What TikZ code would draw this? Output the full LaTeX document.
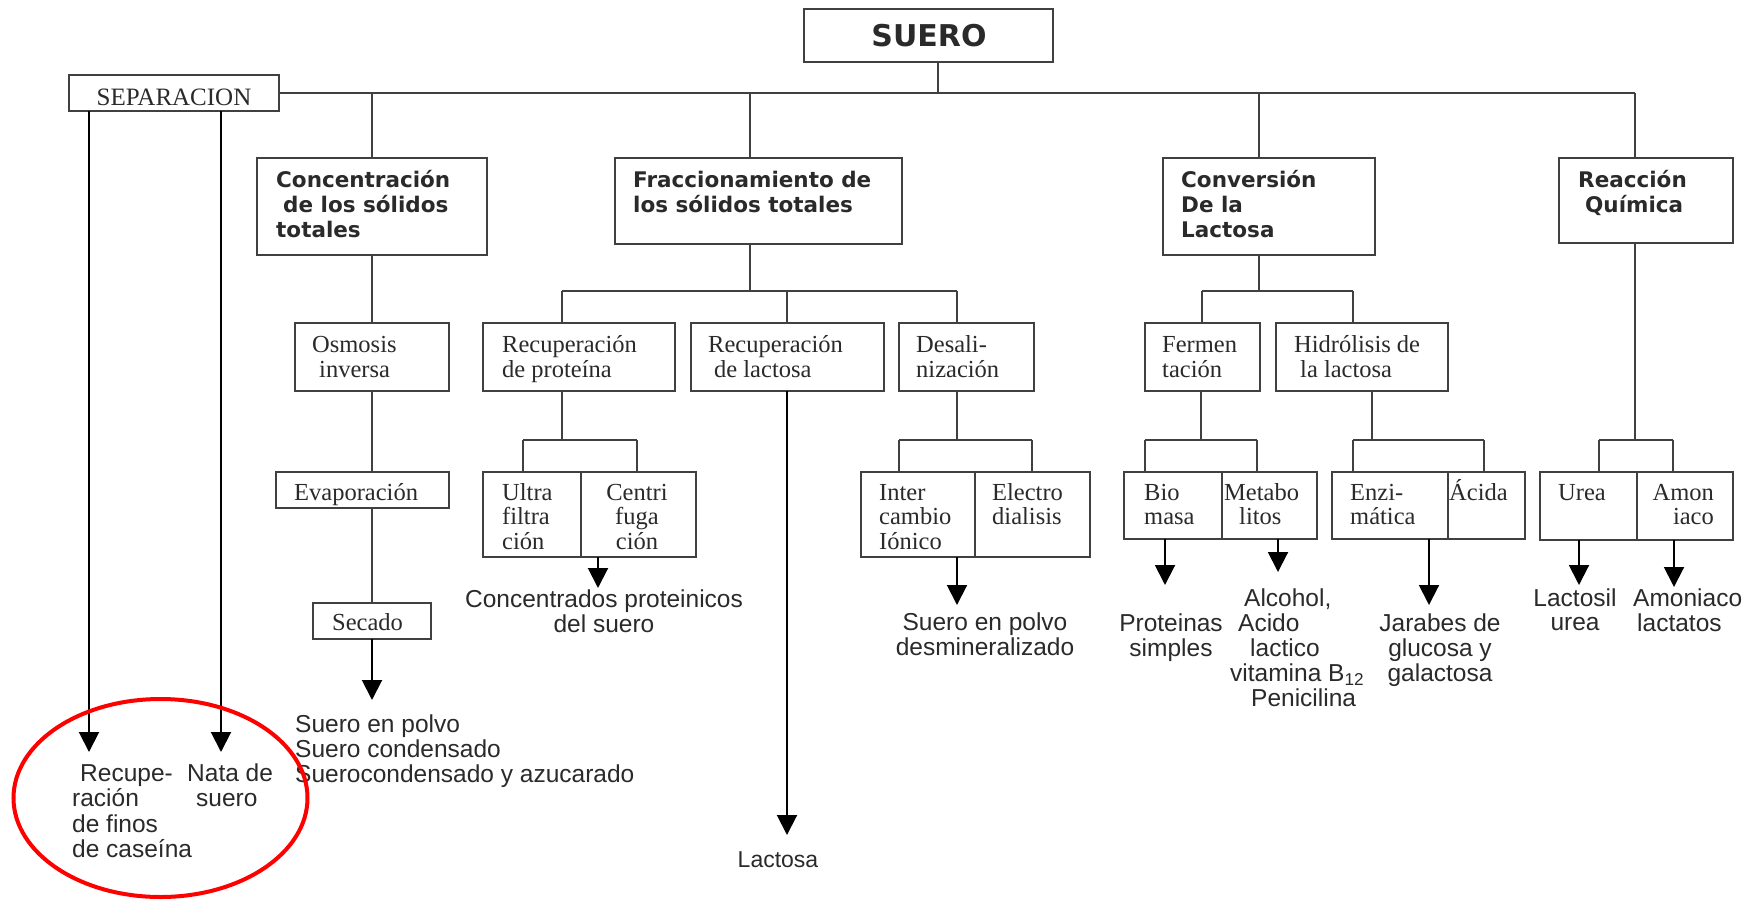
\documentclass[tikz,border=0pt]{standalone}
\usepackage{fontspec}
\setmainfont{Liberation Serif}
\setsansfont{Liberation Sans}
\newfontfamily\hdfont{DejaVu Sans}
\usetikzlibrary{arrows.meta}
\definecolor{linec}{HTML}{404040}
\definecolor{txtc}{HTML}{2A2A2A}
\newcommand\tl[2]{\begin{tabular}[t]{@{}#1@{}}#2\end{tabular}}
\newcommand\mkbox[5]{\node[boxst, anchor=north west, minimum width={(#4-#2)*1pt}, minimum height={(#5-#3)*1pt}] (#1) at (#2,#3) {};}
\tikzset{
  boxst/.style={draw=linec, line width=1.8pt, inner sep=0pt, outer sep=0pt},
  ln/.style={draw=linec, line width=1.8pt},
  arr/.style={draw=black, line width=2pt, -{Triangle[length=20pt,width=20pt]}},
  hd/.style={font=\hdfont\fontsize{21.5}{25}\selectfont\bfseries, text=txtc, inner sep=0pt},
  sf/.style={font=\rmfamily\fontsize{24.5}{25}\selectfont, text=txtc, inner sep=0pt},
  sfs/.style={font=\rmfamily\fontsize{24.5}{24.5}\selectfont, text=txtc, inner sep=0pt},
  rs/.style={font=\sffamily\fontsize{24.5}{24.5}\selectfont, text=txtc, inner sep=0pt},
  rsb/.style={font=\sffamily\fontsize{24.5}{25.5}\selectfont, text=txtc, inner sep=0pt}
}
\begin{document}
\begin{tikzpicture}[x=1pt,y=-1pt]
\fill[white] (0,0) rectangle (1754,900);
\useasboundingbox (0,0) rectangle (1754,900);

% ---------- boxes ----------
\mkbox{suero}{804}{9}{1053}{62}
\mkbox{sep}{69}{75}{279}{111}
\mkbox{conc}{257}{158}{487}{255}
\mkbox{frac}{615}{158}{902}{244}
\mkbox{conv}{1163}{158}{1375}{255}
\mkbox{reac}{1559}{158}{1733}{243}
\mkbox{osm}{295}{323}{449}{391}
\mkbox{rprot}{483}{323}{675}{391}
\mkbox{rlact}{691}{323}{884}{391}
\mkbox{desal}{899}{323}{1034}{391}
\mkbox{ferm}{1145}{323}{1260}{391}
\mkbox{hidro}{1276}{323}{1448}{391}
\mkbox{evap}{276}{472}{449}{508}
\mkbox{sec}{313}{603}{431}{639}
\mkbox{ultra}{483}{472}{581}{557}
\mkbox{centri}{581}{472}{696}{557}
\mkbox{inter}{861}{472}{975}{557}
\mkbox{electro}{975}{472}{1090}{557}
\mkbox{bio}{1124}{472}{1222}{539}
\mkbox{meta}{1222}{472}{1317}{539}
\mkbox{enzi}{1332}{472}{1448}{539}
\mkbox{acida}{1448}{472}{1525}{539}
\mkbox{urea}{1540}{472}{1637}{540}
\mkbox{amon}{1637}{472}{1733}{540}

% ---------- box texts ----------
\node[hd, font=\hdfont\fontsize{30}{32}\selectfont\bfseries, anchor=base] (t-suero) at (929,46) {SUERO};
\node[sf, font=\rmfamily\fontsize{25}{25}\selectfont, anchor=base] (t-sep) at (174,105) {SEPARACION};
\node[hd, anchor=base west] (t-conc) at (276,187) {\tl{l}{Concentración\\\hspace{7pt}de los sólidos\\totales}};
\node[hd, anchor=base west] (t-frac) at (633,187) {\tl{l}{Fraccionamiento de\\los sólidos totales}};
\node[hd, anchor=base west] (t-conv) at (1181,187) {\tl{l}{Conversión\\De la\\Lactosa}};
\node[hd, anchor=base west] (t-reac) at (1578,187) {\tl{l}{Reacción\\\hspace{7pt}Química}};

\node[sf, anchor=base west] (t-osm) at (312,352) {\tl{l}{Osmosis\\\hspace{7pt}inversa}};
\node[sf, anchor=base west] (t-rprot) at (502,352) {\tl{l}{Recuperación\\de proteína}};
\node[sf, anchor=base west] (t-rlact) at (708,352) {\tl{l}{Recuperación\\\hspace{6pt}de lactosa}};
\node[sf, anchor=base west] (t-desal) at (916,352) {\tl{l}{Desali-\\nización}};
\node[sf, anchor=base west] (t-ferm) at (1162,352) {\tl{l}{Fermen\\tación}};
\node[sf, anchor=base west] (t-hidro) at (1294,352) {\tl{l}{Hidrólisis de\\\hspace{6pt}la lactosa}};
\node[sf, anchor=base west] (t-evap) at (294,500) {Evaporación};
\node[sf, anchor=base west] (t-sec) at (332,630) {Secado};
\node[sfs, anchor=base west] (t-ultra) at (502,500) {\tl{l}{Ultra\\filtra\\ción}};
\node[sfs, anchor=base] (t-centri) at (637,500) {\tl{c}{Centri\\fuga\\ción}};
\node[sfs, anchor=base west] (t-inter) at (879,500) {\tl{l}{Inter\\cambio\\Iónico}};
\node[sfs, anchor=base west] (t-electro) at (992,500) {\tl{l}{Electro\\dialisis}};
\node[sfs, anchor=base west] (t-bio) at (1144,500) {\tl{l}{Bio\\masa}};
\node[sfs, anchor=base west] (t-meta) at (1224,500) {\tl{l}{Metabo\\\hspace{15pt}litos}};
\node[sfs, anchor=base west] (t-enzi) at (1350,500) {\tl{l}{Enzi-\\mática}};
\node[sfs, anchor=base west] (t-acida) at (1449,500) {Ácida};
\node[sfs, anchor=base west] (t-urea) at (1558,500) {Urea};
\node[sfs, anchor=base east] (t-amon) at (1714,500) {\tl{r}{Amon\\iaco}};

% ---------- result texts ----------
\node[rs, anchor=base] (r-conc) at (604,607) {\tl{c}{Concentrados proteinicos\\del suero}};
\node[rs, anchor=base] (r-desal) at (985,630) {\tl{c}{Suero en polvo\\desmineralizado}};
\node[rs, anchor=base west] (r-sec) at (295,732) {\tl{l}{Suero en polvo\\Suero condensado\\Suerocondensado y azucarado}};
\node[rs, font=\sffamily\fontsize{23}{24}\selectfont, anchor=base] (r-lact) at (778,867) {Lactosa};
\node[rsb, anchor=base west] (r-fin) at (72,781) {\tl{l}{\hspace{8pt}Recupe-\\\hspace{0pt}ración\\de finos\\de caseína}};
\node[rsb, anchor=base west] (r-nata) at (187,781) {\tl{l}{Nata de\\\hspace{9pt}suero}};
\node[rs, anchor=base] (r-prot) at (1171,631) {\tl{c}{Proteinas\\simples}};
\node[rs, anchor=base west] (r-alc) at (1230,606) {\tl{l}{\hspace{14pt}Alcohol,\\\hspace{8pt}Acido\\\hspace{20pt}lactico\\vitamina B\textsubscript{12}\\\hspace{21pt}Penicilina}};
\node[rs, anchor=base] (r-jar) at (1440,631) {\tl{c}{Jarabes de\\glucosa y\\galactosa}};
\node[rs, anchor=base] (r-lsil) at (1575,606) {\tl{c}{Lactosil\\urea}};
\node[rs, anchor=base west] (r-amo) at (1633,606) {\tl{l}{Amoniaco\\\hspace{4pt}lactatos}};

% ---------- junction coordinates ----------
\coordinate (jS) at (938,93);
\coordinate (jC) at (372,93);
\coordinate (jF) at (750,93);
\coordinate (jV) at (1259,93);
\coordinate (jR) at (1635,93);
\coordinate (fB) at (750,291);
\coordinate (fL) at (562,291);
\coordinate (fM) at (787,291);
\coordinate (fR) at (957,291);
\coordinate (pJ) at (562,440);
\coordinate (pL) at (523,440);
\coordinate (pR) at (637,440);
\coordinate (dJ) at (957,440);
\coordinate (dL) at (899,440);
\coordinate (dR) at (1032,440);
\coordinate (cB) at (1259,291);
\coordinate (cL) at (1202,291);
\coordinate (cR) at (1353,291);
\coordinate (eJ) at (1201,440);
\coordinate (eL) at (1145,440);
\coordinate (eR) at (1257,440);
\coordinate (hJ) at (1372,440);
\coordinate (hL) at (1353,440);
\coordinate (hR) at (1484,440);
\coordinate (rJ) at (1635,440);
\coordinate (rL) at (1599,440);
\coordinate (rR) at (1673,440);
% arrow tips
\coordinate (aS1) at (89,752);
\coordinate (aS2) at (221,752);
\coordinate (aSec) at (372,700);
\coordinate (aUC) at (598,588);
\coordinate (aLac) at (787,835);
\coordinate (aDes) at (957,605);
\coordinate (aBio) at (1165,585);
\coordinate (aMet) at (1278,572);
\coordinate (aEnz) at (1429,605);
\coordinate (aUre) at (1579,585);
\coordinate (aAmo) at (1674,587);

% ---------- connectors ----------
\draw[ln] (sep.east) -- (jR);
\draw[ln] (suero.south -| jS) -- (jS);
\draw[ln] (jC) -- (conc.north -| jC);
\draw[ln] (jF) -- (frac.north -| jF);
\draw[ln] (jV) -- (conv.north -| jV);
\draw[ln] (jR) -- (reac.north -| jR);

\draw[arr] (sep.south -| aS1) -- (aS1);
\draw[arr] (sep.south -| aS2) -- (aS2);

\draw[ln] (conc.south) -- (osm.north);
\draw[ln] (osm.south) -- (osm.south |- evap.north);
\draw[ln] (osm.south |- evap.south) -- (sec.north);
\draw[arr] (sec.south) -- (aSec);

\draw[ln] (frac.south -| fB) -- (fB);
\draw[ln] (fL) -- (fR);
\draw[ln] (fL) -- (rprot.north -| fL);
\draw[ln] (fM) -- (rlact.north -| fM);
\draw[ln] (fR) -- (desal.north -| fR);

\draw[ln] (rprot.south -| pJ) -- (pJ);
\draw[ln] (pL) -- (pR);
\draw[ln] (pL) -- (ultra.north -| pL);
\draw[ln] (pR) -- (centri.north -| pR);
\draw[arr] (ultra.south -| aUC) -- (aUC);

\draw[arr] (rlact.south -| aLac) -- (aLac);

\draw[ln] (desal.south -| dJ) -- (dJ);
\draw[ln] (dL) -- (dR);
\draw[ln] (dL) -- (inter.north -| dL);
\draw[ln] (dR) -- (electro.north -| dR);
\draw[arr] (inter.south -| aDes) -- (aDes);

\draw[ln] (conv.south -| cB) -- (cB);
\draw[ln] (cL) -- (cR);
\draw[ln] (cL) -- (ferm.north -| cL);
\draw[ln] (cR) -- (hidro.north -| cR);

\draw[ln] (ferm.south -| eJ) -- (eJ);
\draw[ln] (eL) -- (eR);
\draw[ln] (eL) -- (bio.north -| eL);
\draw[ln] (eR) -- (meta.north -| eR);
\draw[arr] (bio.south -| aBio) -- (aBio);
\draw[arr] (meta.south -| aMet) -- (aMet);

\draw[ln] (hidro.south -| hJ) -- (hJ);
\draw[ln] (hL) -- (hR);
\draw[ln] (hL) -- (enzi.north -| hL);
\draw[ln] (hR) -- (acida.north -| hR);
\draw[arr] (enzi.south -| aEnz) -- (aEnz);

\draw[ln] (reac.south -| rJ) -- (rJ);
\draw[ln] (rL) -- (rR);
\draw[ln] (rL) -- (urea.north -| rL);
\draw[ln] (rR) -- (amon.north -| rR);
\draw[arr] (urea.south -| aUre) -- (aUre);
\draw[arr] (amon.south -| aAmo) -- (aAmo);

% ---------- red ellipse ----------
\draw[red, line width=4pt] (160.5,798) ellipse [x radius=147pt, y radius=99pt];
\end{tikzpicture}
\end{document}
